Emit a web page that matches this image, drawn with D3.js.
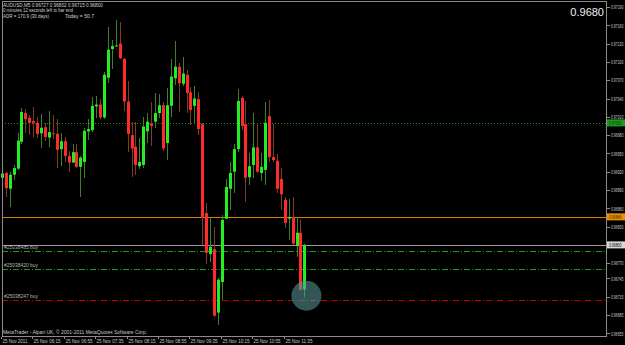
<!DOCTYPE html>
<html>
<head>
<meta charset="utf-8">
<script src="https://cdn.jsdelivr.net/npm/d3@7"></script>
<style>
  html, body { margin: 0; padding: 0; background: #000; }
  svg { display: block; }
  text { font-family: "Liberation Sans", Arial, sans-serif; }
  line { shape-rendering: crispEdges; }
</style>
</head>
<body>
<svg id="chart"></svg>
<script>
// AUDUSD M5 bars, first bar 25 Nov 05:35
const open = [0.96910,0.96918,0.96892,0.96915,0.96925,0.96969,0.97016,0.97008,0.97003,0.97000,
  0.96983,0.96993,0.96976,0.96983,0.96982,0.96957,0.96970,0.96946,0.96935,0.96952,
  0.96928,0.96936,0.96986,0.96988,0.97027,0.97030,0.97009,0.97074,0.97121,0.97126,
  0.97130,0.97105,0.97035,0.96980,0.96961,0.96929,0.96931,0.96986,0.96999,0.97002,
  0.97016,0.97029,0.96967,0.97028,0.97073,0.97092,0.97064,0.97079,0.97050,0.97028,
  0.97039,0.96998,0.96852,0.96785,0.96793,0.96689,0.96739,0.96843,0.96892,0.96920,
  0.96957,0.97041,0.96998,0.96911,0.96931,0.96960,0.96918,0.96923,0.97011,0.96944,
  0.96938,0.96908,0.96874,0.96843,0.96846,0.96798,0.96820,0.96727];
const high = [0.96926,0.96920,0.96920,0.96931,0.96984,0.97024,0.97023,0.97013,0.97026,0.97010,
  0.97015,0.97000,0.97020,0.97013,0.97006,0.96983,0.96977,0.96954,0.96965,0.96965,
  0.96946,0.96992,0.97006,0.97042,0.97044,0.97039,0.97084,0.97158,0.97136,0.97169,
  0.97166,0.97106,0.97068,0.97002,0.97002,0.96975,0.97010,0.97016,0.97035,0.97049,
  0.97047,0.97035,0.97057,0.97104,0.97134,0.97099,0.97108,0.97086,0.97059,0.97060,
  0.97051,0.97000,0.96869,0.96846,0.96829,0.96746,0.96849,0.96908,0.96936,0.96965,
  0.97056,0.97044,0.97036,0.96951,0.97016,0.97000,0.96951,0.97034,0.97038,0.96998,
  0.96949,0.96926,0.96879,0.96875,0.96879,0.96846,0.96841,0.96802];
const low = [0.96890,0.96879,0.96862,0.96907,0.96923,0.96965,0.96983,0.96980,0.96977,0.96975,
  0.96959,0.96970,0.96960,0.96974,0.96926,0.96929,0.96936,0.96920,0.96934,0.96926,
  0.96879,0.96910,0.96972,0.96985,0.97008,0.97006,0.97007,0.97065,0.97088,0.97124,
  0.97104,0.97020,0.96953,0.96912,0.96915,0.96924,0.96926,0.96967,0.96962,0.96991,
  0.97008,0.96954,0.96939,0.97009,0.97062,0.97018,0.97060,0.97017,0.96997,0.96999,
  0.96980,0.96800,0.96769,0.96772,0.96682,0.96669,0.96710,0.96842,0.96857,0.96885,
  0.96952,0.96988,0.96870,0.96898,0.96910,0.96918,0.96905,0.96898,0.96936,0.96936,
  0.96885,0.96857,0.96828,0.96808,0.96800,0.96780,0.96726,0.96715];
const close = [0.96917,0.96893,0.96915,0.96926,0.96971,0.97018,0.97006,0.97000,0.97000,0.96982,
  0.96992,0.96977,0.96985,0.96982,0.96956,0.96970,0.96946,0.96935,0.96952,0.96928,
  0.96943,0.96987,0.96990,0.97028,0.97030,0.97009,0.97079,0.97120,0.97126,0.97127,
  0.97106,0.97035,0.96982,0.96958,0.96931,0.96936,0.96994,0.97002,0.96995,0.97016,
  0.97029,0.96958,0.97029,0.97076,0.97092,0.97065,0.97081,0.97049,0.97021,0.97040,
  0.96990,0.96846,0.96787,0.96797,0.96684,0.96743,0.96841,0.96895,0.96918,0.96957,
  0.97036,0.96995,0.96910,0.96929,0.96960,0.96920,0.96928,0.97000,0.96944,0.96939,
  0.96892,0.96883,0.96836,0.96846,0.96802,0.96820,0.96726,0.96800];

const timeLabels = ["25 Nov 2011","25 Nov 06:15","25 Nov 06:55","25 Nov 07:35","25 Nov 08:15",
  "25 Nov 08:55","25 Nov 09:35","25 Nov 10:15","25 Nov 10:55","25 Nov 11:35"];
const timeLabelBars = [0, 8, 16, 24, 32, 40, 48, 56, 64, 72];

const priceTicks = [0.97190,0.97160,0.97130,0.97100,0.97070,0.97040,0.97010,0.96980,0.96950,
  0.96920,0.96890,0.96860,0.96830,0.96770,0.96745,0.96715,0.96685,0.96655];

const bidPrice = 0.96800;
const alertPrice = 0.97000;   // green dotted
const levelPrice = 0.96846;   // orange line
const orderTickets = ["#25038485 buy", "#25038420 buy", "#25038247 buy"];
const orderPrices = [0.96790, 0.96760, 0.96710];
const orderKinds = ["open", "open", "stop"];

const headerLines = [
  "AUDUSD,M5  0.96727 0.96802 0.96715 0.96800",
  "0 minutes 12 seconds left to bar end",
  "ADR = 170.9 (30 days)"
];
const todayText = "Today = 50.7";
const footerText = "MetaTrader - Alpari UK, \u00a9 2001-2011 MetaQuotes Software Corp.";

const W = 625, H = 345;
const plot = { left: 2, right: 606, top: 1, bottom: 336 };
const FS = 5.4;
const FONT = "Liberation Sans, Arial, sans-serif";

const svg = d3.select("#chart").attr("width", W).attr("height", H);
svg.append("rect").attr("width", W).attr("height", H).attr("fill", "#000");

// the screenshot font is a narrow pixel font: squeeze text horizontally to its width
function squeeze(sel, width) {
  sel.each(function (d, i) {
    const w = typeof width === "function" ? width(d, i) : width;
    const n = this.getComputedTextLength();
    const s = Math.min(1, w / n);
    const x0 = +this.getAttribute("x") || 0;
    this.setAttribute("x", x0 / s);
    this.setAttribute("transform", `scale(${s},1)`);
  });
  return sel;
}
function label(parent, xx, yy, str, width, fill) {
  const t = parent.append("text")
    .attr("x", xx).attr("y", yy)
    .attr("font-size", FS).attr("font-family", FONT)
    .attr("fill", fill).text(str);
  return squeeze(t, width);
}

const bars = open.map((o, i) => ({ i, o, h: high[i], l: low[i], c: close[i] }));

// 154 bar slots fit in the plot width
const x = d3.scaleBand()
  .domain(d3.range(154))
  .range([0.35, 0.35 + 154 * 3.93]);
const xc = i => x(i) + x.bandwidth() / 2;

const y = d3.scaleLinear().domain([0.96650, 0.97190]).range([336.4, 7]);
const py = p => Math.round(y(p)) + 0.5;

const g = svg.append("g");

// green dotted alert line
g.append("line")
  .attr("x1", plot.left).attr("x2", plot.right)
  .attr("y1", py(alertPrice)).attr("y2", py(alertPrice))
  .attr("stroke", "#1f8f1f").attr("stroke-dasharray", "1,2");

// orange level
g.append("line")
  .attr("x1", plot.left).attr("x2", plot.right)
  .attr("y1", py(levelPrice)).attr("y2", py(levelPrice))
  .attr("stroke", "#d98200");

// bid line
g.append("line")
  .attr("x1", plot.left).attr("x2", plot.right)
  .attr("y1", py(bidPrice)).attr("y2", py(bidPrice))
  .attr("stroke", "#9a9a9a");

// order lines
const orderColor = { open: "#16a016", stop: "#c00000" };
orderPrices.forEach((p, k) => {
  const yy = py(p);
  g.append("line")
    .attr("x1", plot.left).attr("x2", plot.right)
    .attr("y1", yy).attr("y2", yy)
    .attr("stroke", orderColor[orderKinds[k]])
    .attr("stroke-dasharray", "6,2,1,2");
  label(g, 4, yy - 2, orderTickets[k], 34, "#b4b4b4");
});

// candles
const cg = g.selectAll(".candle").data(bars).enter().append("g").attr("class", "candle");

cg.append("line")
  .attr("x1", d => Math.floor(xc(d.i)) + 0.5)
  .attr("x2", d => Math.floor(xc(d.i)) + 0.5)
  .attr("y1", d => y(d.h))
  .attr("y2", d => y(d.l))
  .attr("stroke", d => d.c >= d.o ? "#3f7f2c" : "#7f3a28");

cg.append("rect")
  .attr("x", d => Math.floor(xc(d.i)) - 1)
  .attr("width", 3)
  .attr("y", d => y(Math.max(d.o, d.c)))
  .attr("height", d => Math.max(1, y(Math.min(d.o, d.c)) - y(Math.max(d.o, d.c))))
  .attr("fill", d => d.c >= d.o ? "#22ee22" : "#ff2a2a");

// highlight circle around the last low
const last = bars[bars.length - 1];
g.append("circle")
  .attr("cx", xc(last.i) + 1.5)
  .attr("cy", y(last.l) - 1)
  .attr("r", 15)
  .attr("fill", "#5a9c9c")
  .attr("opacity", 0.55);

// frame
svg.append("rect")
  .attr("x", plot.left + 0.5).attr("y", plot.top + 0.5)
  .attr("width", plot.right - plot.left).attr("height", plot.bottom - plot.top)
  .attr("fill", "none").attr("stroke", "#8c8c8c");

// price axis
const fmt5 = d3.format(".5f");
const yAxis = svg.append("g")
  .attr("transform", `translate(${plot.right + 0.5},0)`)
  .call(d3.axisRight(y).tickValues(priceTicks).tickFormat(fmt5).tickSize(3).tickPadding(1.5));
yAxis.select(".domain").remove();
yAxis.selectAll("line").attr("stroke", "#8c8c8c");
squeeze(yAxis.selectAll("text")
  .attr("fill", "#c8c8c8").attr("font-size", FS)
  .attr("font-family", FONT), 12.5);

// price boxes
const boxes = [
  { p: alertPrice, bg: "#1f9a1f", fg: "#083808" },
  { p: levelPrice, bg: "#e89400", fg: "#3a2000" },
  { p: bidPrice, bg: "#d8d8d8", fg: "#000" }
];
boxes.forEach(b => {
  const yy = y(b.p);
  svg.append("rect").attr("x", plot.right + 1).attr("y", yy - 3.5)
    .attr("width", 18).attr("height", 7).attr("fill", b.bg);
  label(svg, plot.right + 3, yy + 2, fmt5(b.p), 12.5, b.fg);
});

// time axis
const xAxis = svg.append("g")
  .attr("transform", `translate(0,${plot.bottom + 0.5})`)
  .call(d3.axisBottom(x).tickValues(timeLabelBars).tickFormat((d, i) => timeLabels[i]).tickSize(2).tickPadding(1));
xAxis.select(".domain").remove();
xAxis.selectAll(".tick").attr("transform", d => `translate(${Math.floor(xc(d)) - 0.5},0)`);
xAxis.selectAll("line").attr("stroke", "#8c8c8c");
squeeze(xAxis.selectAll("text")
  .attr("text-anchor", "start").attr("x", 1)
  .attr("fill", "#c8c8c8").attr("font-size", FS)
  .attr("font-family", FONT), (d, i) => i === 0 ? 25 : 27);

// header text
const headerWidths = [100, 70, 46];
headerLines.forEach((t, k) => label(svg, 3, 7 + k * 5.4, t, headerWidths[k], "#d0d0d0"));
label(svg, 65, 7 + 2 * 5.4, todayText, 29, "#d0d0d0");

svg.append("text").attr("x", 604).attr("y", 16)
  .attr("text-anchor", "end").attr("font-size", 11).attr("font-family", FONT)
  .attr("fill", "#f0f0f0").text(d3.format(".4f")(bidPrice));

label(svg, 3, 334, footerText, 144, "#c8c8c8");
</script>
</body>
</html>
